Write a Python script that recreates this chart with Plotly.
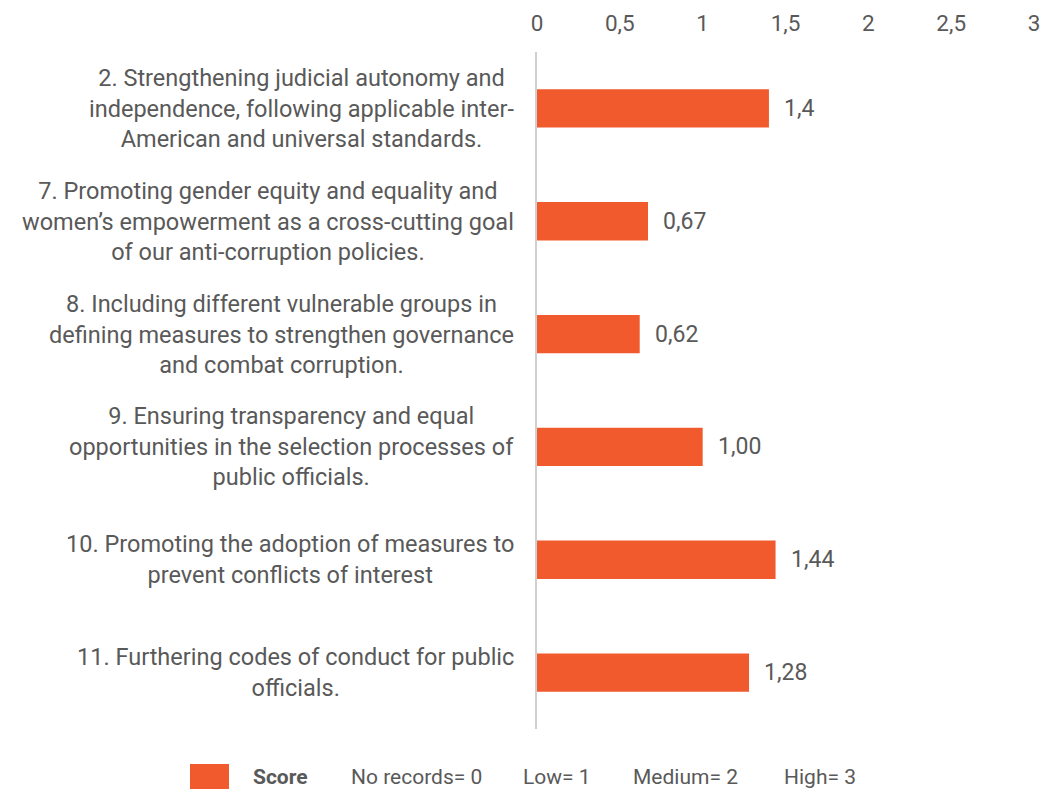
import plotly.graph_objects as go

categories = [
    "2. Strengthening judicial autonomy and<br>independence, following applicable inter-<br>American and universal standards.",
    "7. Promoting gender equity and equality and<br>women’s empowerment as a cross-cutting goal<br>of our anti-corruption policies.",
    "8. Including different vulnerable groups in<br>defining measures to strengthen governance<br>and combat corruption.",
    "9. Ensuring transparency and equal<br>opportunities in the selection processes of<br>public officials.",
    "10. Promoting the adoption of measures to<br>prevent conflicts of interest",
    "11. Furthering codes of conduct for public<br>officials.",
]
cat_ids = ["c2", "c7", "c8", "c9", "c10", "c11"]
scores = [1.4, 0.67, 0.62, 1.00, 1.44, 1.28]
score_labels = ["1,4", "0,67", "0,62", "1,00", "1,44", "1,28"]
tick_vals = [0, 0.5, 1, 1.5, 2, 2.5, 3]
tick_text = ["0", "0,5", "1", "1,5", "2", "2,5", "3"]
legend_items = ["No records= 0", "Low= 1", "Medium= 2", "High= 3"]

BAR = "#F15A2C"
GRAY = "#595959"
FONT = "Roboto"

W, H = 1046, 790
ML, MR, MT, MB = 537, 12, 52, 61

fig = go.Figure()
fig.add_trace(go.Bar(
    x=scores, y=cat_ids, orientation="h",
    marker=dict(color=BAR, line=dict(width=0)),
    showlegend=False, hoverinfo="skip",
))

ann = []
for cid, lab in zip(cat_ids, categories):
    ann.append(dict(x=0, xref="paper", y=cid, yref="y", text=lab, showarrow=False,
                    xanchor="right", align="center", xshift=-21,
                    font=dict(family=FONT, size=23.5, color=GRAY)))
for cid, v, t in zip(cat_ids, scores, score_labels):
    ann.append(dict(x=v, xref="x", y=cid, yref="y", text=t, showarrow=False,
                    xanchor="left", xshift=13,
                    font=dict(family=FONT, size=23, color=GRAY)))

pw, ph = W - ML - MR, H - MT - MB
def px(x):
    return (x - ML) / pw
def py(y):
    return (H - MB - y) / ph

fig.add_shape(type="rect", xref="paper", yref="paper",
              x0=px(190), x1=px(229), y0=py(789), y1=py(764),
              fillcolor=BAR, line=dict(width=0))
ann.append(dict(x=px(251), xref="paper", y=py(777), yref="paper", text="<b>Score</b>",
                showarrow=False, xanchor="left", yanchor="middle",
                font=dict(family=FONT, size=21, color=GRAY)))
leg_x = [349, 521, 631, 782]
for lx, t in zip(leg_x, legend_items):
    ann.append(dict(x=px(lx), xref="paper", y=py(777), yref="paper", text=t,
                    showarrow=False, xanchor="left", yanchor="middle",
                    font=dict(family=FONT, size=21, color=GRAY)))

fig.update_layout(
    width=W, height=H,
    margin=dict(l=ML, r=MR, t=MT, b=MB),
    paper_bgcolor="white", plot_bgcolor="white",
    separators=",.",
    bargap=0.66,
    font=dict(family=FONT, size=23, color=GRAY),
    xaxis=dict(side="top", range=[0, 3], tickvals=tick_vals, ticktext=tick_text,
               showgrid=False, zeroline=False, showline=False, ticks="",
               automargin=False,
               tickfont=dict(family=FONT, size=22.5, color=GRAY), ticklabelstandoff=16),
    yaxis=dict(categoryorder="array", categoryarray=cat_ids, autorange="reversed",
               showticklabels=False, showgrid=False, zeroline=False, automargin=False,
               showline=True, linecolor="#D0D0D0", linewidth=2, ticks=""),
    annotations=ann,
)

fig.write_html("out.html")
